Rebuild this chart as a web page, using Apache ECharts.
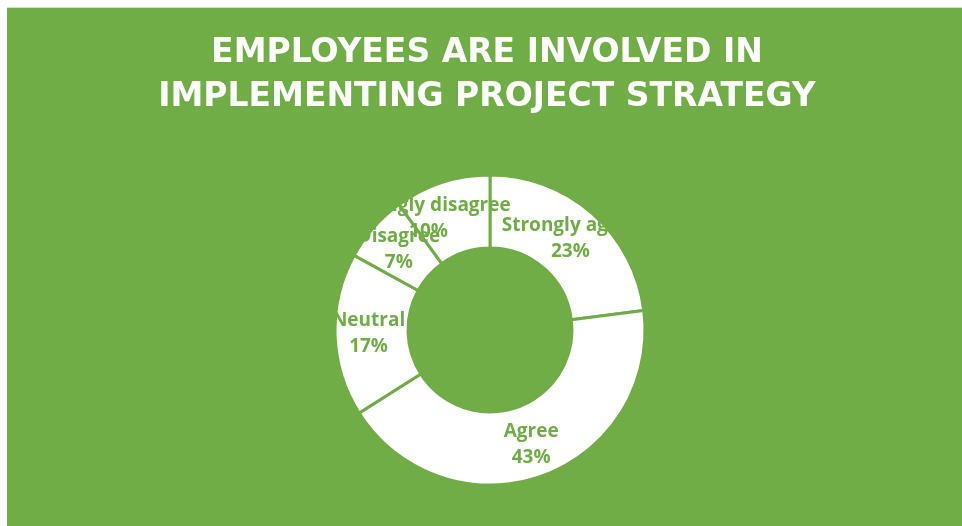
<!DOCTYPE html>
<html>
<head>
<meta charset="utf-8">
<title>Employees are involved in implementing project strategy</title>
<script src="https://cdn.jsdelivr.net/npm/echarts@6/dist/echarts.min.js"></script>
<style>
  html, body { margin: 0; padding: 0; background: #ffffff; width: 962px; height: 526px; overflow: hidden; }
  #chart { position: absolute; left: 7px; top: 7px; width: 955px; height: 519px; border-top: 1px solid #d9d9d9; box-sizing: border-box; }
</style>
</head>
<body>
<div id="chart"></div>
<script>
// Survey responses, share of employees (%)
const categories = ['Strongly agree', 'Agree', 'Neutral', 'Disagree', 'Strongly disagree'];
const shares = [23, 43, 17, 7, 10];

const titleText = 'EMPLOYEES ARE INVOLVED IN\nIMPLEMENTING PROJECT STRATEGY';

const GREEN = '#70AD47';

const chart = echarts.init(document.getElementById('chart'), null, { renderer: 'canvas' });

chart.setOption({
  backgroundColor: GREEN,
  animation: false,
  title: {
    text: titleText,
    left: 480,
    top: 23,
    padding: 0,
    textAlign: 'center',
    textStyle: {
      color: '#ffffff',
      fontFamily: 'DejaVu Sans',
      fontWeight: 'bold',
      fontSize: 33,
      lineHeight: 44
    }
  },
  series: [{
    type: 'pie',
    center: [483, 322],
    radius: [82, 155],
    startAngle: 90,
    clockwise: true,
    silent: true,
    avoidLabelOverlap: false,
    minShowLabelAngle: 0,
    itemStyle: {
      color: '#ffffff',
      borderColor: GREEN,
      borderWidth: 3
    },
    label: {
      show: true,
      position: 'inside',
      color: GREEN,
      fontFamily: 'Open Sans',
      fontWeight: 'bold',
      fontSize: 19,
      lineHeight: 26,
      formatter: p => p.name + '\n' + p.value + '%'
    },
    // keep every label visible; the narrow top slice's label sits a little left
    labelLayout: p => (p.dataIndex === categories.length - 1
      ? { hideOverlap: false, dx: -24, dy: 4 }
      : { hideOverlap: false }),
    labelLine: { show: false },
    emphasis: { disabled: true },
    data: categories.map((name, i) => ({ name, value: shares[i] }))
  }]
});
</script>
</body>
</html>
